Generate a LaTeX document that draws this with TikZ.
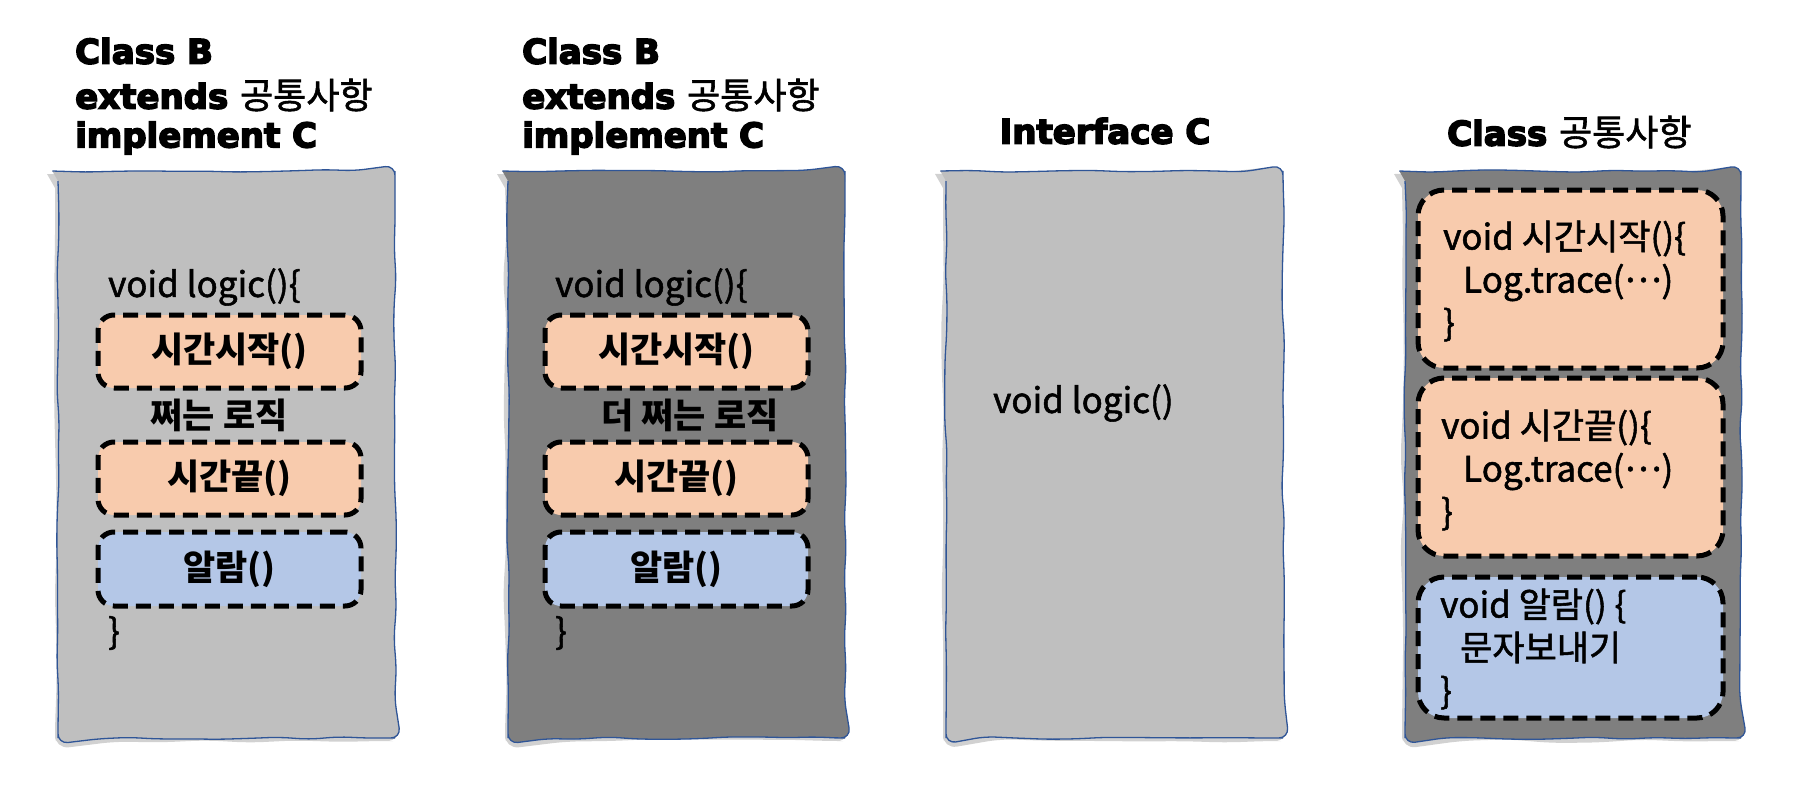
\documentclass[tikz,border=0pt]{standalone}
\usepackage{fontspec}
\setmainfont{Noto Sans CJK KR}[UprightFeatures={FakeBold=1.5}]
\newfontfamily\headfamily{DejaVu Sans Bold}[FakeBold=4.5]
\usetikzlibrary{decorations.pathmorphing}

\definecolor{lightsheet}{HTML}{BFBFBF}
\definecolor{darksheet}{HTML}{7F7F7F}
\definecolor{edgeblue}{HTML}{2F5597}
\definecolor{peach}{HTML}{F8CBAD}
\definecolor{skyblue}{HTML}{B4C7E7}

\newcommand{\codetext}{\normalfont\fontsize{35}{43}\selectfont}
\newcommand{\titletext}{\headfamily\fontsize{34}{43}\selectfont}
\newcommand{\titlekr}[1]{{\normalfont\fontsize{36}{43}\selectfont #1}}
\newcommand{\middots}{\raisebox{0.3em}{…}}

\tikzset{
  sheet/.style={draw=edgeblue, line width=1.3pt, decorate,
    decoration={random steps, segment length=30pt, amplitude=1.4pt},
    rounded corners=10pt},
  sheetshade/.style={fill=black!18, decorate,
    decoration={random steps, segment length=45pt, amplitude=2pt},
    rounded corners=14pt},
  dashbox/.style={draw=black, line width=5pt, dash pattern=on 15pt off 8pt,
    rounded corners=16pt, inner sep=0pt},
  codeline/.style={anchor=west, inner sep=0pt, font=\codetext},
  codeblock/.style={anchor=west, inner sep=0pt, font=\codetext, align=left},
  titleline/.style={anchor=west, inner sep=0pt, font=\titletext},
  tag/.style={inner sep=0pt, font=\codetext\bfseries}
}

\begin{document}
\begin{tikzpicture}[x=1pt, y=-1pt]
  \pgfmathsetseed{11}
  \useasboundingbox (0,0) rectangle (1800,800);

  % sheets
  \fill[sheetshade] (55,174) rectangle (393,741);
  \path[sheet, fill=lightsheet] (58,171) rectangle (395,738);
  \fill[sheetshade] (505,174) rectangle (843,741);
  \path[sheet, fill=darksheet] (508,171) rectangle (845,738);
  \fill[sheetshade] (943,174) rectangle (1281,741);
  \path[sheet, fill=lightsheet] (946,171) rectangle (1283,738);
  \fill[sheetshade] (1402,174) rectangle (1739,741);
  \path[sheet, fill=darksheet] (1405,171) rectangle (1741,738);

  % class B (first)
  \begin{scope}
    \node[titleline] (b1name) at (75,51) {Class B};
    \node[titleline] (b1ext) at (75,95) {extends \titlekr{공통사항}};
    \node[titleline] (b1impl) at (75,138) {implement C};
    \node[codeline] (b1logic) at (108,287) {void logic()\{};
    \node[dashbox, fill=peach, minimum width=263pt, minimum height=73pt]
      (b1start) at (229.5,351.5) {};
    \node[tag] at (b1start) {시간시작()};
    \node[tag] (b1work) at (219,415) {쩌는 로직};
    \node[dashbox, fill=peach, minimum width=263pt, minimum height=73pt]
      (b1end) at (229.5,478.5) {};
    \node[tag] at (b1end) {시간끝()};
    \node[dashbox, fill=skyblue, minimum width=263pt, minimum height=74pt]
      (b1alarm) at (229.5,569) {};
    \node[tag] at (b1alarm) {알람()};
    \node[codeline] (b1close) at (108,633) {\}};
  \end{scope}

  % class B (second)
  \begin{scope}[xshift=447pt]
    \node[titleline] (b2name) at (75,51) {Class B};
    \node[titleline] (b2ext) at (75,95) {extends \titlekr{공통사항}};
    \node[titleline] (b2impl) at (75,138) {implement C};
    \node[codeline] (b2logic) at (108,287) {void logic()\{};
    \node[dashbox, fill=peach, minimum width=263pt, minimum height=73pt]
      (b2start) at (229.5,351.5) {};
    \node[tag] at (b2start) {시간시작()};
    \node[tag] (b2work) at (243,415) {더 쩌는 로직};
    \node[dashbox, fill=peach, minimum width=263pt, minimum height=73pt]
      (b2end) at (229.5,478.5) {};
    \node[tag] at (b2end) {시간끝()};
    \node[dashbox, fill=skyblue, minimum width=263pt, minimum height=74pt]
      (b2alarm) at (229.5,569) {};
    \node[tag] at (b2alarm) {알람()};
    \node[codeline] (b2close) at (108,633) {\}};
  \end{scope}

  % interface C
  \node[inner sep=0pt, font=\titletext] (iname) at (1105,131) {Interface C};
  \node[codeline] (ilogic) at (993,403) {void logic()};

  % class 공통사항
  \node[titleline] (cname) at (1447,132) {Class \titlekr{공통사항}};
  \node[dashbox, fill=peach, rounded corners=26pt, minimum width=305pt,
    minimum height=178pt] (cstart) at (1570.5,279) {};
  \node[codeblock] (cstarttext) at (1443,281)
    {void 시간시작()\{\\\hspace{20pt}Log.trace(\middots)\\\}};
  \node[dashbox, fill=peach, rounded corners=26pt, minimum width=305pt,
    minimum height=178pt] (cend) at (1570.5,467) {};
  \node[codeblock] (cendtext) at (1441,470)
    {void 시간끝()\{\\\hspace{22pt}Log.trace(\middots)\\\}};
  \node[dashbox, fill=skyblue, rounded corners=26pt, minimum width=305pt,
    minimum height=141pt] (calarm) at (1570.5,647.5) {};
  \node[codeblock] (calarmtext) at (1440,649)
    {void 알람() \{\\\hspace{20pt}문자보내기\\\}};
\end{tikzpicture}
\end{document}
